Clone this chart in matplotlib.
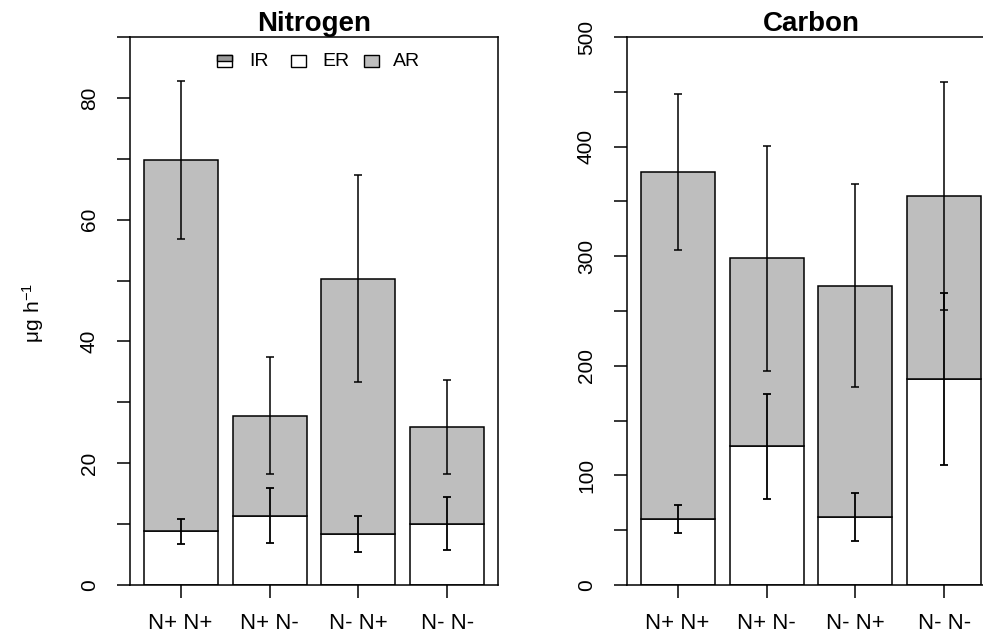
import matplotlib
matplotlib.use("Agg")
import matplotlib.pyplot as plt
from matplotlib.patches import Rectangle
import numpy as np

plt.rcParams['font.family'] = ['Liberation Sans', 'DejaVu Sans']

# treatments on the x axis
groups = ["N+ N+", "N+ N-", "N- N+", "N- N-"]

# Nitrogen (ug h-1): ER bottom segment, AR stacked on top
n_er = [8.8, 11.4, 8.4, 10.1]
n_er_err = [2.0, 4.5, 3.0, 4.4]
n_ar = [61.0, 16.4, 41.9, 15.9]
n_ar_err = [13.0, 9.6, 17.0, 7.7]

# Carbon (ug h-1)
c_er = [60.4, 126.6, 61.9, 188.0]
c_er_err = [12.8, 48.0, 21.7, 78.6]
c_ar = [316.6, 171.4, 211.1, 167.0]
c_ar_err = [71.0, 102.5, 92.7, 104.3]

GRAY = "#bebebe"
W, H = 983, 639


def panel(ax, er, er_err, ar, ar_err, title, ymax, ystep, ylab_step):
    x = 0.7 + 1.2 * np.arange(len(groups))
    er = np.array(er)
    ar = np.array(ar)
    ax.bar(x, er, width=1.0, color="white", edgecolor="black", linewidth=1.1, zorder=2)
    ax.bar(x, ar, width=1.0, bottom=er, color=GRAY, edgecolor="black", linewidth=1.1, zorder=2)
    ax.errorbar(x, er, yerr=er_err, fmt="none", ecolor="black", elinewidth=1.3,
                capsize=2.6, capthick=1.3, zorder=3)
    ax.errorbar(x, er + ar, yerr=ar_err, fmt="none", ecolor="black", elinewidth=1.1,
                capsize=2.6, capthick=1.1, zorder=3)

    ax.set_xlim(0.016, 4.984)
    ax.set_ylim(0, ymax)
    ax.set_xticks(x)
    ax.set_xticklabels(groups, fontsize=16)
    yt = np.arange(0, ymax + 1, ystep)
    ax.set_yticks(yt)
    ax.set_yticklabels([str(int(v)) if v % ylab_step == 0 and v < ymax else "" for v in yt],
                       fontsize=15, rotation=90, va="center")
    ax.tick_params(axis="x", length=9.4, width=1.1, pad=11)
    ax.tick_params(axis="y", length=9.4, width=1.1, pad=13)
    for s in ax.spines.values():
        s.set_linewidth(1.1)
    ax.set_title(title, fontsize=20, fontweight="bold", pad=3)


fig = plt.figure(figsize=(W / 100, H / 100), dpi=100, facecolor="white")
bottom = 1 - 585 / H
height = (585 - 37) / H
ax1 = fig.add_axes([130 / W, bottom, 368 / W, height])
ax2 = fig.add_axes([627 / W, bottom, 368 / W, height])

panel(ax1, n_er, n_er_err, n_ar, n_ar_err, "Nitrogen", 90, 10, 20)
panel(ax2, c_er, c_er_err, c_ar, c_ar_err, "Carbon", 500, 50, 100)

# the right panel's 500 label is drawn too
ax2.set_yticklabels([str(int(v)) if v % 100 == 0 else "" for v in ax2.get_yticks()],
                    fontsize=15, rotation=90, va="center")

fig.text(33 / W, 1 - 313 / H, r"$\mathregular{\mu g\ h^{-1}}$", rotation=90,
         fontsize=15, ha="center", va="center")

# legend drawn by hand (IR box is half shaded)
ly = 0.956
bw, bh = 0.040, 0.022
for bx, tx, lab, kind in [(0.236, 0.323, "IR", "ir"), (0.4375, 0.524, "ER", "er"),
                          (0.636, 0.715, "AR", "ar")]:
    fc = GRAY if kind == "ar" else "white"
    ax1.add_patch(Rectangle((bx, ly - bh / 2), bw, bh, transform=ax1.transAxes,
                            facecolor=fc, edgecolor="black", linewidth=1.0, zorder=5))
    if kind == "ir":
        ax1.add_patch(Rectangle((bx, ly), bw, bh / 2, transform=ax1.transAxes,
                                facecolor="#9a9a9a", edgecolor="black", linewidth=1.0, zorder=5))
    ax1.text(tx, ly, lab, transform=ax1.transAxes, fontsize=14, ha="left", va="center")

plt.savefig("out.png", dpi=100, facecolor=fig.get_facecolor())
